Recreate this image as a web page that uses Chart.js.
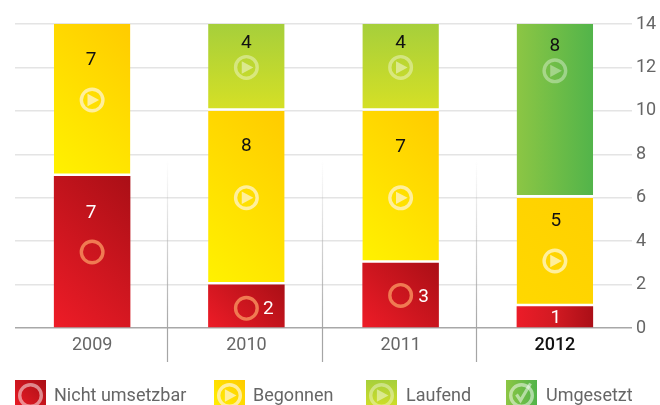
<!DOCTYPE html>
<html>
<head>
<meta charset="utf-8">
<script src="https://cdn.jsdelivr.net/npm/chart.js@4"></script>
<style>html,body{margin:0;padding:0;background:#fff;overflow:hidden}#w{width:660px;height:405px;position:relative}</style>
</head>
<body>
<div id="w"><canvas id="c" width="660" height="405"></canvas></div>
<script>
const years = ["2009", "2010", "2011", "2012"];
const yTicks = [0, 2, 4, 6, 8, 10, 12, 14];
const nichtUmsetzbar = [7, 2, 3, 1];
const begonnen = [7, 8, 7, 5];
const laufend = [null, 4, 4, null];
const umgesetzt = [null, null, null, 8];
const seriesNames = ["Nicht umsetzbar", "Begonnen", "Laufend", "Umgesetzt"];

// presentation only: pixel offsets from each segment's centre [iconDy, labelDx, labelDy]
const placeRed = [[0, -1, -40], [2, 22, 2], [0, 23, 1], [null, 1, 0]];
const placeYellow = [[0, -1, -41], [0, 0, -52], [11, 0, -41], [9, 1, -32]];
const placeLaufend = [null, [0, 0, -25], [0, 0, -25], null];
const placeUmgesetzt = [null, null, null, [-40, 0, -66]];

const all = [nichtUmsetzbar, begonnen, laufend, umgesetzt];
const places = [placeRed, placeYellow, placeLaufend, placeUmgesetzt];
const FONT = 'Roboto, sans-serif';

function segBounds(chart, ds, i) {
  let lo = 0;
  for (let k = 0; k < ds; k++) lo += all[k][i] || 0;
  const hi = lo + (all[ds][i] || 0);
  const y = chart.scales.y, x = chart.scales.x;
  const cx = x.getPixelForValue(i);
  const half = 38.25;
  return {l: cx - half, r: cx + half, t: y.getPixelForValue(hi), b: y.getPixelForValue(lo), cx};
}
function diag(ctx, b, c0, c1) {
  const w = b.r - b.l, h = b.b - b.t, mx = (b.l + b.r) / 2, my = (b.t + b.b) / 2, d = (w + h) / 4;
  const g = ctx.createLinearGradient(mx - d, my + d, mx + d, my - d);
  g.addColorStop(0, c0); g.addColorStop(1, c1);
  return g;
}
function fillFor(ctxt, ds) {
  const chart = ctxt.chart, i = ctxt.dataIndex, ctx = chart.ctx;
  if (i === undefined || !chart.scales.y || !chart.scales.x) return '#cccccc';
  const b = segBounds(chart, ds, i);
  if (![b.l, b.r, b.t, b.b].every(Number.isFinite)) return '#cccccc';
  let g;
  if (ds === 0) {
    if (i === 3) { g = ctx.createLinearGradient(b.l, 0, b.r, 0); g.addColorStop(0, '#ec1c28'); g.addColorStop(.5, '#d21a22'); g.addColorStop(1, '#ab0f17'); return g; }
    return diag(ctx, b, '#ee1c27', '#aa0f16');
  }
  if (ds === 1) {
    if (i === 3) return diag(ctx, b, '#ffd800', '#ffd000');
    return diag(ctx, b, '#fff200', '#ffcb00');
  }
  if (ds === 2) { g = ctx.createLinearGradient(0, b.b, 0, b.t); g.addColorStop(0, '#d6e025'); g.addColorStop(1, '#a6cf3b'); return g; }
  g = ctx.createLinearGradient(b.l, 0, b.r, 0); g.addColorStop(0, '#8cc644'); g.addColorStop(1, '#52b44a'); return g;
}
const iconStyle = [
  {ring: '#f07a52', tri: null},
  {ring: '#ffef9c', tri: '#ffef9c'},
  {ring: 'rgba(255,255,255,.38)', tri: 'rgba(255,255,255,.45)'},
  {ring: 'rgba(255,255,255,.36)', tri: 'rgba(255,255,255,.36)'}
];
function drawIcon(ctx, x, y, s, st, check) {
  const r = 10.8 * s;
  ctx.save();
  ctx.lineWidth = 3.4 * s;
  ctx.strokeStyle = st.ring;
  ctx.beginPath(); ctx.arc(x, y, r, 0, Math.PI * 2); ctx.stroke();
  if (st.tri) {
    ctx.fillStyle = st.tri;
    ctx.beginPath();
    ctx.moveTo(x - 4.6 * s, y - 6.2 * s);
    ctx.lineTo(x + 7 * s, y);
    ctx.lineTo(x - 4.6 * s, y + 6.2 * s);
    ctx.closePath(); ctx.fill();
  }
  if (check) {
    ctx.lineWidth = 3.2;
    ctx.beginPath();
    ctx.moveTo(x - 5, y - 1);
    ctx.lineTo(x - 1, y + 5);
    ctx.lineTo(x + 9, y - 12);
    ctx.stroke();
  }
  ctx.restore();
}

const overlay = {
  id: 'overlay',
  beforeDatasetsDraw(chart) {
    const ctx = chart.ctx, x = chart.scales.x;
    ctx.save();
    for (let i = 1; i < years.length; i++) {
      const px = Math.round((x.getPixelForValue(i - 1) + x.getPixelForValue(i)) / 2) - 1.5;
      const g = ctx.createLinearGradient(0, 160, 0, 330);
      g.addColorStop(0, 'rgba(170,170,170,0)');
      g.addColorStop(1, 'rgba(165,165,165,1)');
      ctx.strokeStyle = g; ctx.lineWidth = 1.2;
      ctx.beginPath(); ctx.moveTo(px, 160); ctx.lineTo(px, 362); ctx.stroke();
    }
    ctx.restore();
  },
  afterDatasetsDraw(chart) {
    const ctx = chart.ctx;
    ctx.save();
    all.forEach((vals, ds) => vals.forEach((v, i) => {
      if (v === null) return;
      const b = segBounds(chart, ds, i), p = places[ds][i];
      const cy = (b.t + b.b) / 2;
      if (p[0] !== null) drawIcon(ctx, b.cx, cy + p[0], 1, iconStyle[ds], false);
      ctx.fillStyle = ds === 0 ? '#ffffff' : '#111111';
      ctx.font = '19px ' + FONT;
      ctx.textAlign = 'center'; ctx.textBaseline = 'middle';
      ctx.fillText(String(v), b.cx + p[1], cy + p[2] + 1);
    }));
    // legend
    const swX = [15, 214, 366, 506], txtX = [54, 253, 406, 546];
    seriesNames.forEach((name, k) => {
      const r = {l: swX[k], r: swX[k] + 31, t: 380, b: 411};
      let g;
      if (k === 2) { g = ctx.createLinearGradient(0, r.b, 0, r.t); g.addColorStop(0, '#d6e025'); g.addColorStop(1, '#a6cf3b'); }
      else if (k === 3) { g = ctx.createLinearGradient(r.l, 0, r.r, 0); g.addColorStop(0, '#8cc644'); g.addColorStop(1, '#52b44a'); }
      else if (k === 0) g = diag(ctx, r, '#ee1c27', '#aa0f16');
      else g = diag(ctx, r, '#fff200', '#ffcb00');
      ctx.fillStyle = g;
      ctx.fillRect(r.l, r.t, 31, 25);
      const st = k === 0 ? {ring: 'rgba(255,255,255,.5)', tri: null} : k === 3 ? {ring: 'rgba(255,255,255,.5)', tri: null} : iconStyle[k];
      drawIcon(ctx, r.l + 15.5, 395.5, 1, st, k === 3);
      ctx.fillStyle = '#666666';
      ctx.font = '18px ' + FONT;
      ctx.textAlign = 'left'; ctx.textBaseline = 'alphabetic';
      ctx.fillText(name, txtX[k], 401);
    });
    ctx.restore();
  }
};

function whiteGap(ds) {
  return ds === 0 ? 0 : {top: 0, left: 0, right: 0, bottom: 2.6};
}
new Chart(document.getElementById('c'), {
  type: 'bar',
  data: {
    labels: years,
    datasets: all.map((vals, ds) => ({
      label: seriesNames[ds],
      data: vals,
      stack: 's',
      backgroundColor: c => fillFor(c, ds),
      borderColor: '#ffffff',
      borderWidth: whiteGap(ds),
      borderSkipped: false,
      categoryPercentage: 1,
      barPercentage: 0.496
    }))
  },
  options: {
    responsive: false,
    animation: false,
    events: [],
    layout: {padding: {top: 24, left: 15, right: 0, bottom: 0}},
    plugins: {legend: {display: false}, tooltip: {enabled: false}, title: {display: false}},
    scales: {
      x: {
        stacked: true,
        afterFit: s => { s.height = 77; },
        grid: {display: false},
        border: {display: false},
        ticks: {
          color: c => c.index === 3 ? '#111111' : '#666666',
          font: c => ({family: FONT, size: 18, weight: c.index === 3 ? '500' : '400'}),
          padding: -1,
          maxRotation: 0
        }
      },
      y: {
        stacked: true,
        position: 'right',
        min: 0, max: 14,
        afterFit: s => { s.width = 28; },
        afterBuildTicks: s => { s.ticks = yTicks.map(v => ({value: v})); },
        border: {display: false},
        grid: {
          color: c => (c.tick && c.tick.value === 0) ? '#a8a8a8' : '#e4e4e4',
          lineWidth: 1.5,
          drawTicks: false
        },
        ticks: {
          color: '#666666',
          font: {family: FONT, size: 18},
          padding: 4
        }
      }
    }
  },
  plugins: [overlay]
});
</script>
</body>
</html>
